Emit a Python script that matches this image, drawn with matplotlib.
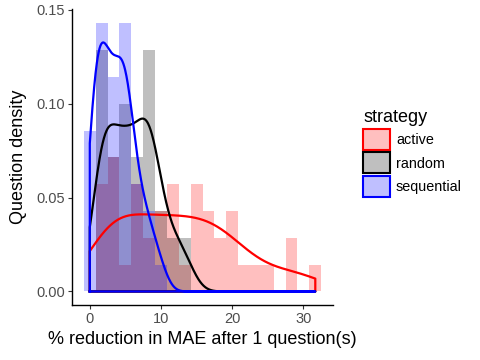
import numpy as np
import matplotlib
matplotlib.use("Agg")
import matplotlib.pyplot as plt
from matplotlib.patches import Patch

plt.rcParams.update({"font.family": ["Liberation Sans", "DejaVu Sans"]})

# ---- data: questions per bin (bin k is centred on k * BIN_W) ----
BIN_W = 5 / 3
bin_index = np.arange(20)
active_counts = [0, 4, 5, 1, 4, 2, 3, 4, 1, 4, 3, 2, 3, 1, 1, 1, 0, 2, 0, 1]
random_counts = [0, 9, 5, 7, 5, 9, 3, 2, 2, 0, 0, 0, 0, 0, 0, 0, 0, 0, 0, 0]
sequential_counts = [6, 10, 8, 10, 4, 3, 1, 0, 0, 0, 0, 0, 0, 0, 0, 0, 0, 0, 0, 0]
strategies = ["active", "random", "sequential"]
line_colors = ["red", "black", "blue"]

TICK_C = "#4D4D4D"


def kde(x, grid):
    # gaussian kernel, R's bw.nrd0 rule
    n = len(x)
    iqr = np.subtract(*np.percentile(x, [75, 25]))
    bw = 0.9 * min(x.std(ddof=1), iqr / 1.34) * n ** -0.2
    z = (grid[:, None] - x[None, :]) / bw
    return np.exp(-0.5 * z ** 2).sum(1) / (n * bw * np.sqrt(2 * np.pi))


def spread(counts):
    # place each bin's questions evenly inside the bin (values are >= 0)
    pts = []
    for k, c in zip(bin_index, counts):
        lo = max(0.0, (k - 0.5) * BIN_W)
        hi = (k + 0.5) * BIN_W
        pts += [lo + (hi - lo) * (i + 0.5) / c for i in range(c)]
    return np.array(pts)


centers = bin_index * BIN_W
edges = np.append(centers - BIN_W / 2, centers[-1] + BIN_W / 2)
samples = [spread(c) for c in (active_counts, random_counts, sequential_counts)]
allx = np.concatenate(samples)
grid = np.linspace(0, allx.max(), 512)

fig = plt.figure(figsize=(4.8, 3.6), dpi=100)
ax = fig.add_axes([0.15, 0.153, 0.544, 0.822])

for s, c in zip(samples, line_colors):
    ax.hist(s, bins=edges, density=True, color=c, alpha=0.25, lw=0)

for s, c in zip(samples, line_colors):
    d = kde(s, grid)
    ax.plot(np.r_[grid[0], grid, grid[-1], grid[0]], np.r_[0, d, 0, 0],
            color=c, lw=1.6, solid_joinstyle="round")

ax.set_xlim(-2.5, 34.17)
ax.set_ylim(-0.00717, 0.1505)
ax.set_xticks([0, 10, 20, 30])
ax.set_yticks([0, 0.05, 0.10, 0.15])
ax.set_yticklabels(["0.00", "0.05", "0.10", "0.15"])
for side in ("top", "right"):
    ax.spines[side].set_visible(False)
for side in ("left", "bottom"):
    ax.spines[side].set_linewidth(1.0)
ax.tick_params(length=3, width=0.8, color="#333333", labelcolor=TICK_C, labelsize=10.5, pad=2)
ax.set_xlabel("% reduction in MAE after 1 question(s)", fontsize=13, labelpad=4)
ax.set_ylabel("Question density", fontsize=13, labelpad=7)

handles = [Patch(facecolor=matplotlib.colors.to_rgba(c, 0.25), edgecolor=c, lw=1.5)
           for c in line_colors]
leg = fig.legend(handles, strategies, loc="upper left", bbox_to_anchor=(0.742, 0.718),
                 frameon=False, fontsize=10.4, title="strategy", title_fontsize=13,
                 handlelength=1.85, handleheight=1.85, labelspacing=0.2,
                 handletextpad=0.4, borderpad=0, alignment="left")

fig.savefig("out.png", dpi=100, facecolor="white")
